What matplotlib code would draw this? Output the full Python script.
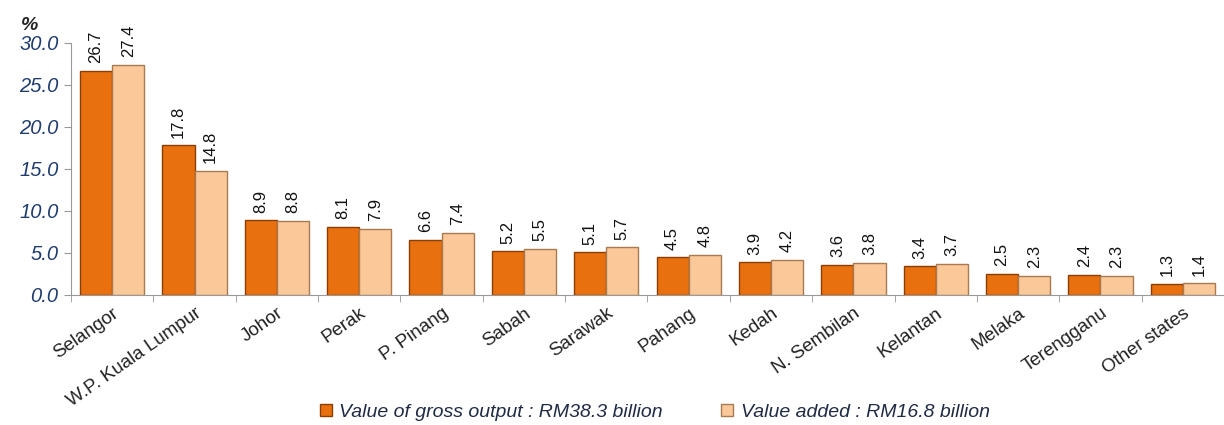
import matplotlib
matplotlib.use("Agg")
import matplotlib.pyplot as plt
import numpy as np

states = ["Selangor", "W.P. Kuala Lumpur", "Johor", "Perak", "P. Pinang", "Sabah",
          "Sarawak", "Pahang", "Kedah", "N. Sembilan", "Kelantan", "Melaka",
          "Terengganu", "Other states"]
gross_output = [26.7, 17.8, 8.9, 8.1, 6.6, 5.2, 5.1, 4.5, 3.9, 3.6, 3.4, 2.5, 2.4, 1.3]
value_added = [27.4, 14.8, 8.8, 7.9, 7.4, 5.5, 5.7, 4.8, 4.2, 3.8, 3.7, 2.3, 2.3, 1.4]
yticks = [0, 5, 10, 15, 20, 25, 30]
label_gross = "Value of gross output : RM38.3 billion"
label_added = "Value added : RM16.8 billion"

plt.rcParams['font.family'] = ['Liberation Sans', 'DejaVu Sans']

fig = plt.figure(figsize=(12.24, 4.25), dpi=100)
ax = fig.add_axes([0.058, 0.306, 0.942, 0.593])

x = np.arange(len(states))
w = 0.39
c1, e1 = "#E8700E", "#8A3E05"
c2, e2 = "#FBC899", "#A87A50"
b1 = ax.bar(x - w/2, gross_output, w, color=c1, edgecolor=e1, linewidth=1.0, label=label_gross, zorder=3)
b2 = ax.bar(x + w/2, value_added, w, color=c2, edgecolor=e2, linewidth=1.0, label=label_added, zorder=3)

for xi, v in zip(x - w/2, gross_output):
    ax.text(xi, v + 0.9, f"{v:.1f}", rotation=90, ha="center", va="bottom", fontsize=12, color="#111111", clip_on=False)
for xi, v in zip(x + w/2, value_added):
    ax.text(xi, v + 0.9, f"{v:.1f}", rotation=90, ha="center", va="bottom", fontsize=12, color="#111111", clip_on=False)

ax.set_xlim(-0.5, len(states) - 0.5)
ax.set_ylim(0, 30)
ax.set_yticks(yticks)
ax.set_yticklabels([f"{t:.1f}" for t in yticks], fontsize=14.5, style="italic", color="#1F3C6E")
ax.set_xticks(x)
ax.set_xticklabels(states, rotation=35, ha="right", rotation_mode="anchor", fontsize=13.5, color="#222222")
ax.tick_params(axis="x", length=0, pad=7)
ax.set_xticks(np.arange(len(states)) - 0.5, minor=True)
ax.tick_params(axis="x", which="minor", length=5, color="#999999")
ax.tick_params(axis="y", length=5, color="#999999", pad=4)

for s in ["top", "right"]:
    ax.spines[s].set_visible(False)
ax.spines["left"].set_color("#999999")
ax.spines["bottom"].set_color("#999999")

ax.text(-0.043, 1.035, "%", transform=ax.transAxes, fontsize=14, fontweight="bold", style="italic",
        color="#222222", ha="left", va="bottom")

fig.legend(handles=[b1, b2], loc="center", bbox_to_anchor=(0.535, 0.03), ncol=2, frameon=False,
           prop={"size": 14, "style": "italic"}, handlelength=0.6, handleheight=0.6, columnspacing=3,
           handletextpad=0.4, labelcolor="#1F2A44")

fig.savefig("out.png", dpi=100)
